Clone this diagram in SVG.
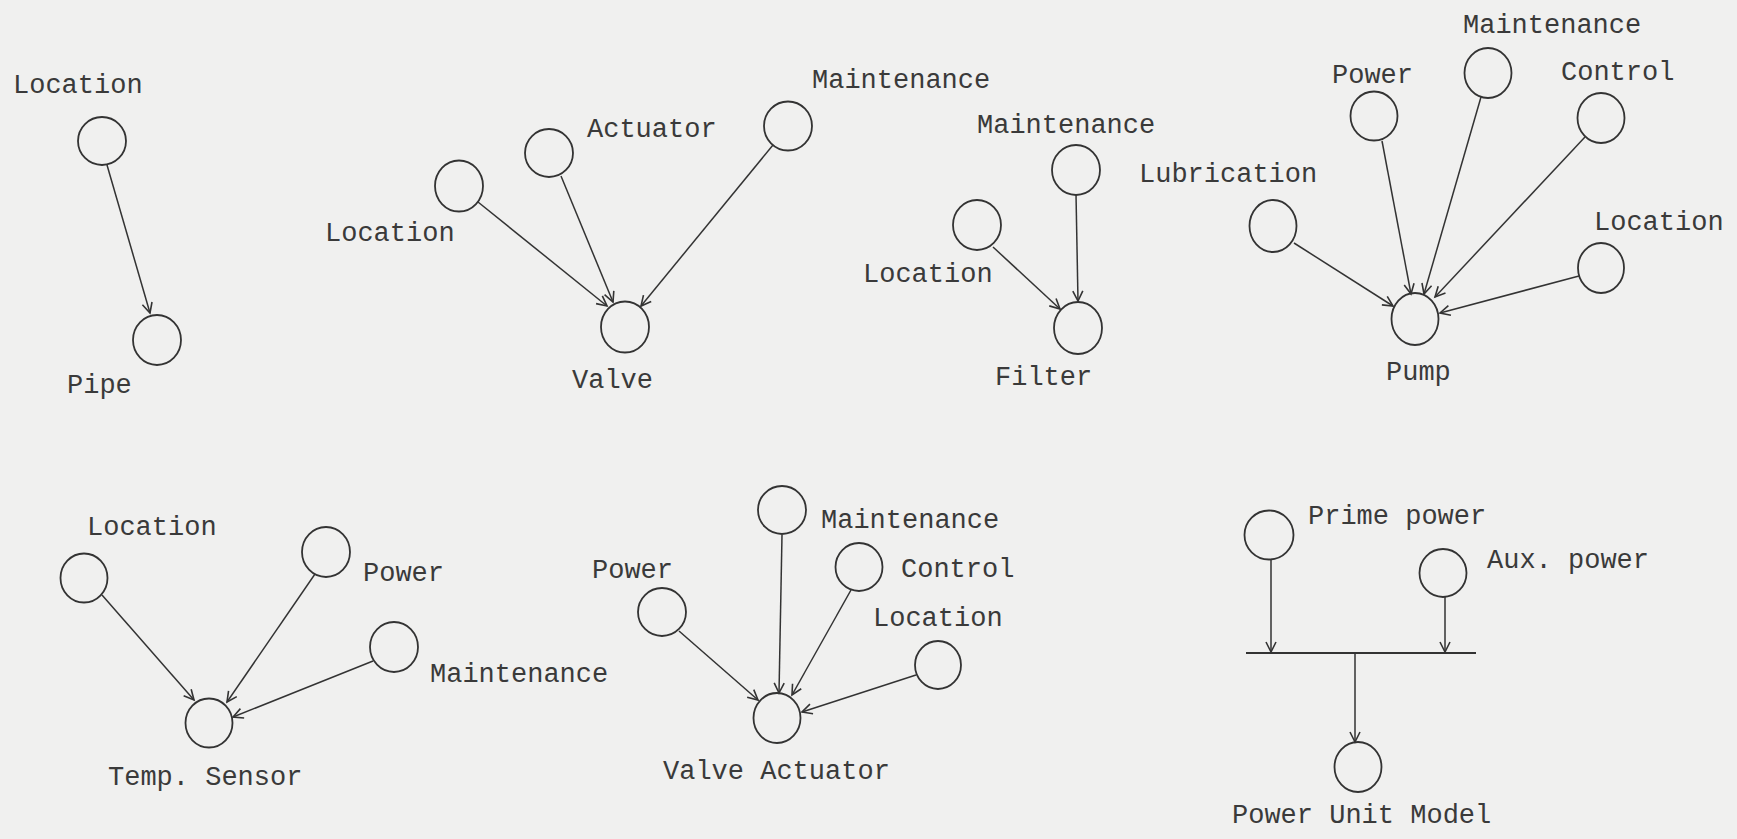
<svg xmlns="http://www.w3.org/2000/svg" width="1737" height="839" viewBox="0 0 1737 839">
<style>
.n{fill:none;stroke:#333;stroke-width:1.8}
.c{fill:none;stroke:#333;stroke-width:1.5;marker-end:url(#ah)}
.b{fill:none;stroke:#333;stroke-width:2.2}
text{font-family:"Liberation Mono","Courier New",monospace;font-size:27px;fill:#3a3a3a}
</style>
<defs>
<marker id="ah" markerUnits="userSpaceOnUse" markerWidth="14" markerHeight="14" refX="11" refY="6" orient="auto">
<path d="M1,1 L11,6 L1,11" fill="none" stroke="#333" stroke-width="1.6"/>
</marker>
</defs>
<rect width="1737" height="839" fill="#f0f0ef"/>

<g id="connectors">
<!-- Pipe -->
<line class="c" x1="107" y1="165" x2="150" y2="313"/>
<!-- Valve -->
<line class="c" x1="478" y1="202" x2="607" y2="306"/>
<line class="c" x1="561" y1="176" x2="613" y2="302"/>
<line class="c" x1="773" y1="145" x2="641" y2="306"/>
<!-- Filter -->
<line class="c" x1="1076" y1="194" x2="1078" y2="301"/>
<line class="c" x1="993" y1="247" x2="1060" y2="309"/>
<!-- Pump -->
<line class="c" x1="1294" y1="243" x2="1393" y2="306"/>
<line class="c" x1="1382" y1="141" x2="1411" y2="294"/>
<line class="c" x1="1481" y1="97" x2="1424" y2="294"/>
<line class="c" x1="1585" y1="137" x2="1435" y2="297"/>
<line class="c" x1="1579" y1="276" x2="1440" y2="313"/>
<!-- Temp sensor -->
<line class="c" x1="102" y1="595" x2="194" y2="700"/>
<line class="c" x1="315" y1="574" x2="227" y2="702"/>
<line class="c" x1="373" y1="661" x2="233" y2="717"/>
<!-- Valve actuator -->
<line class="c" x1="782" y1="535" x2="779" y2="693"/>
<line class="c" x1="851" y1="590" x2="792" y2="695"/>
<line class="c" x1="679" y1="631" x2="758" y2="700"/>
<line class="c" x1="916" y1="675" x2="802" y2="712"/>
<!-- Power unit -->
<line class="b" x1="1246" y1="653" x2="1476" y2="653"/>
<line class="c" x1="1271" y1="560" x2="1271" y2="652"/>
<line class="c" x1="1445" y1="597" x2="1445" y2="652"/>
<line class="c" x1="1355" y1="653" x2="1355" y2="742"/>
</g>

<g id="pipe-location"><circle class="n" cx="102" cy="141" r="24"/><text x="13" y="93">Location</text></g>
<g id="pipe"><ellipse class="n" cx="157" cy="340" rx="24" ry="25"/><text x="67" y="393">Pipe</text></g>

<g id="valve-location"><ellipse class="n" cx="459" cy="186" rx="24" ry="25.5"/><text x="325" y="241">Location</text></g>
<g id="valve-actuator-in"><ellipse class="n" cx="549" cy="153" rx="24" ry="24"/><text x="587" y="137">Actuator</text></g>
<g id="valve-maintenance"><ellipse class="n" cx="788" cy="126" rx="24" ry="24.5"/><text x="812" y="88">Maintenance</text></g>
<g id="valve"><ellipse class="n" cx="625" cy="327" rx="24" ry="25.5"/><text x="572" y="388">Valve</text></g>

<g id="filter-maintenance"><ellipse class="n" cx="1076" cy="170" rx="24" ry="25"/><text x="977" y="133">Maintenance</text></g>
<g id="filter-location"><ellipse class="n" cx="977" cy="225" rx="24" ry="25"/><text x="863" y="282">Location</text></g>
<g id="filter"><ellipse class="n" cx="1078" cy="328" rx="24" ry="26"/><text x="995" y="385">Filter</text></g>

<g id="pump-lubrication"><ellipse class="n" cx="1273" cy="226" rx="23.5" ry="26"/><text x="1139" y="182">Lubrication</text></g>
<g id="pump-power"><ellipse class="n" cx="1374" cy="116" rx="23.5" ry="24.5"/><text x="1332" y="83">Power</text></g>
<g id="pump-maintenance"><ellipse class="n" cx="1488" cy="73" rx="23.5" ry="25"/><text x="1463" y="33">Maintenance</text></g>
<g id="pump-control"><ellipse class="n" cx="1601" cy="118" rx="23.5" ry="25"/><text x="1561" y="80">Control</text></g>
<g id="pump-location"><ellipse class="n" cx="1601" cy="268" rx="23" ry="25"/><text x="1594" y="230">Location</text></g>
<g id="pump"><ellipse class="n" cx="1415" cy="319" rx="23.5" ry="26"/><text x="1386" y="380">Pump</text></g>

<g id="ts-location"><ellipse class="n" cx="84" cy="578" rx="23.5" ry="24.5"/><text x="87" y="535">Location</text></g>
<g id="ts-power"><ellipse class="n" cx="326" cy="552" rx="24" ry="25"/><text x="363" y="581">Power</text></g>
<g id="ts-maintenance"><ellipse class="n" cx="394" cy="647" rx="24" ry="25"/><text x="430" y="682">Maintenance</text></g>
<g id="temp-sensor"><ellipse class="n" cx="209" cy="723" rx="23.5" ry="24.5"/><text x="108" y="785">Temp. Sensor</text></g>

<g id="va-maintenance"><ellipse class="n" cx="782" cy="510" rx="24" ry="24"/><text x="821" y="528">Maintenance</text></g>
<g id="va-control"><ellipse class="n" cx="859" cy="567" rx="23.5" ry="24"/><text x="901" y="577">Control</text></g>
<g id="va-power"><ellipse class="n" cx="662" cy="612" rx="24" ry="24"/><text x="592" y="578">Power</text></g>
<g id="va-location"><ellipse class="n" cx="938" cy="665" rx="23" ry="24"/><text x="873" y="626">Location</text></g>
<g id="valve-actuator"><ellipse class="n" cx="777" cy="718" rx="23.5" ry="25"/><text x="663" y="779">Valve Actuator</text></g>

<g id="prime-power"><ellipse class="n" cx="1269" cy="535" rx="24.5" ry="24.5"/><text x="1308" y="524">Prime power</text></g>
<g id="aux-power"><ellipse class="n" cx="1443" cy="573" rx="23.5" ry="24"/><text x="1487" y="568">Aux. power</text></g>
<g id="power-unit-model"><ellipse class="n" cx="1358" cy="767" rx="23.5" ry="25"/><text x="1232" y="823">Power Unit Model</text></g>
</svg>
